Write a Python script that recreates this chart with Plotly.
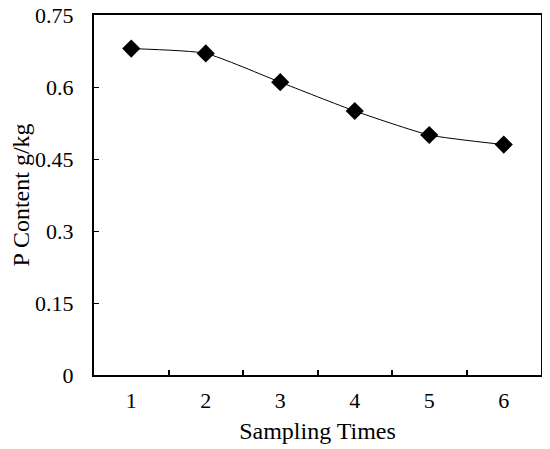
import plotly.graph_objects as go

# data
sampling_times = [1, 2, 3, 4, 5, 6]
p_content = [0.68, 0.67, 0.61, 0.55, 0.50, 0.48]
y_ticks = [0, 0.15, 0.3, 0.45, 0.6, 0.75]
y_tick_labels = ["0", "0.15", "0.3", "0.45", "0.6", "0.75"]
x_boundaries = [1.5, 2.5, 3.5, 4.5, 5.5]

font_family = "Liberation Serif, Times New Roman, serif"

fig = go.Figure()
fig.add_trace(go.Scatter(
    x=sampling_times,
    y=p_content,
    mode="lines+markers",
    line=dict(color="black", width=1, shape="spline", smoothing=0.5),
    marker=dict(symbol="diamond", size=14, color="black"),
    showlegend=False,
))

fig.update_xaxes(
    range=[0.5, 6.5],
    tickmode="array",
    tickvals=sampling_times,
    ticktext=[str(v) for v in sampling_times],
    ticks="",
    ticklabelstandoff=5,
    ticklabeloverflow="allow",
    showline=True, linecolor="black", linewidth=2, mirror=True,
    showgrid=False, zeroline=False, automargin=False,
    minor=dict(tickmode="array", tickvals=x_boundaries, ticks="inside",
               ticklen=5, tickwidth=2, tickcolor="black", showgrid=False),
    tickfont=dict(family=font_family, size=22, color="black"),
    title=dict(text="Sampling Times", font=dict(family=font_family, size=24, color="black"),
               standoff=10),
)
fig.update_yaxes(
    range=[0, 0.75],
    tickmode="array",
    tickvals=y_ticks,
    ticktext=y_tick_labels,
    ticks="inside", ticklen=5, tickwidth=1, tickcolor="black",
    ticklabelstandoff=14,
    ticklabeloverflow="allow",
    showline=True, linecolor="black", linewidth=2, mirror=True,
    showgrid=False, zeroline=False, automargin=False,
    tickfont=dict(family=font_family, size=22, color="black"),
    title=dict(text="P Content g/kg", font=dict(family=font_family, size=24, color="black"),
               standoff=8),
)

# the page body has an 8px margin, so the figure is shrunk to fit the window
fig.update_layout(
    width=542, height=441,
    margin=dict(l=86, r=9, t=7, b=74),
    plot_bgcolor="white",
    paper_bgcolor="white",
)

fig.write_html("out.html")
